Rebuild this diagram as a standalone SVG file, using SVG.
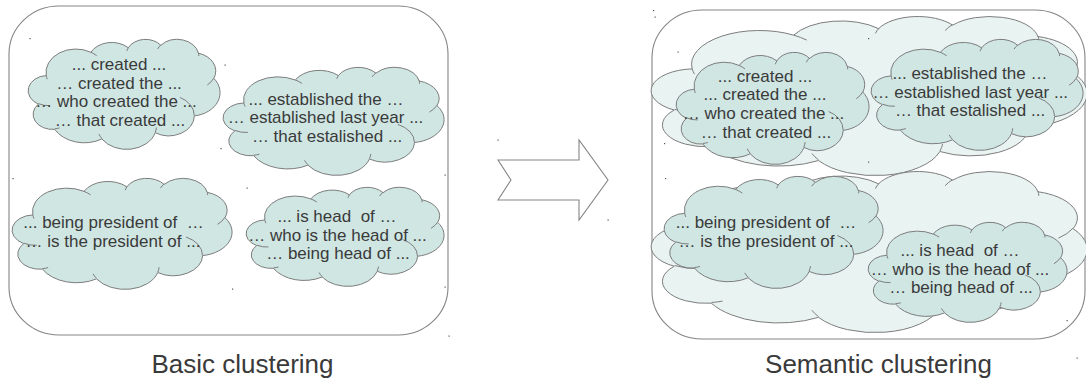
<svg xmlns="http://www.w3.org/2000/svg" xmlns:xlink="http://www.w3.org/1999/xlink" width="1086" height="380" viewBox="0 0 1086 380">
<style>
.panel{fill:#ffffff;stroke:#858585;stroke-width:1.1}
.co,.ci{stroke:#7d7d7d;stroke-width:1;vector-effect:non-scaling-stroke}
.ci{fill:none}
.small{fill:#cfe6e3}
.big{fill:#e9f3f2}
.t{font-family:"Liberation Sans",Arial,sans-serif;font-size:17px;fill:#3a3a3a;text-anchor:middle;white-space:pre}
.cap{font-family:"Liberation Sans",Arial,sans-serif;font-size:26px;fill:#3a3a3a;text-anchor:middle}
.dot{fill:#555555}
</style>
<defs>
<g id="cloud">
<path class="co" d="M39,143.7 A67.53,91.9 0 0 1 140.04,52.01 A53.33,72.67 0 0 1 224.55,34.31 A43.65,59.45 0 0 1 298.32,24.79 A48.57,65.95 0 0 1 383.17,55.74 A53.33,72.73 0 0 1 418.17,154.58 A67.75,92.2 0 0 1 374.03,302.01 A57.85,78.67 0 0 1 285.55,368.12 A67.52,92.15 0 0 1 164.81,392.65 A77.2,105.43 0 0 1 58.05,354.73 A43.6,59.18 0 0 1 21.13,255.52 A43.45,59.45 0 0 1 39,143.7 Z"/>
<path class="ci" d="M46.93,261.77 A43.45,59.45 0 0 1 21.6,253.8 M69.28,348.99 A43.6,59.18 0 0 1 58.19,352.81 M164.78,390.9 A67.52,92.15 0 0 1 158.09,373.48 M288.27,347.51 A67.52,92.15 0 0 1 285.6,366.6 M341.29,229.54 A57.85,78.67 0 0 1 373.81,300.89 M417.98,153.54 A53.33,72.73 0 0 1 403.5,180.31 M383.24,54.26 A48.57,65.95 0 0 1 384,66.65 M290.78,39.52 A48.57,65.95 0 0 1 298.2,23.38 M221.41,47.2 A43.65,59.45 0 0 1 225,33.32 M140,51.92 A67.53,91.9 0 0 1 153.01,65.41 M41.27,157.89 A67.53,91.9 0 0 1 39.01,143.7"/>
</g>
</defs>

<g id="panel-basic">
<rect class="panel" x="9" y="6" width="439" height="329" rx="50" ry="48"/>
</g>
<g id="panel-semantic">
<rect class="panel" x="652" y="10" width="433" height="329" rx="50" ry="48"/>
</g>

<g id="basic-created">
<use xlink:href="#cloud" class="small" transform="translate(29,39) scale(0.4421,0.2546)"/>
<text class="t" x="119" y="70">... created ...</text>
<text class="t" x="119" y="88.5">… created the ...</text>
<text class="t" x="116" y="107">… who created the ...</text>
<text class="t" x="120" y="125.5">… that created ...</text>
</g>
<g id="basic-established">
<use xlink:href="#cloud" class="small" transform="translate(224,67) scale(0.5093,0.25)"/>
<text class="t" x="326" y="104.5">... established the …</text>
<text class="t" x="325.5" y="123.3">… established last year ...</text>
<text class="t" x="327" y="142.3">… that estalished ...</text>
</g>
<g id="basic-president">
<use xlink:href="#cloud" class="small" transform="translate(13,178) scale(0.5069,0.2569)"/>
<text class="t" x="113.5" y="228">... being president of  …</text>
<text class="t" x="113" y="246.5">… is the president of ...</text>
</g>
<g id="basic-head">
<use xlink:href="#cloud" class="small" transform="translate(247,187) scale(0.456,0.2292)"/>
<text class="t" x="337" y="222">... is head  of …</text>
<text class="t" x="337.5" y="240.7">… who is the head of ...</text>
<text class="t" x="338" y="259.3">… being head of ...</text>
</g>

<g id="semantic-cluster-top">
<use xlink:href="#cloud" class="big" transform="translate(653,16) scale(1.0046,0.3681)"/>
</g>
<g id="semantic-cluster-bottom">
<use xlink:href="#cloud" class="big" transform="translate(653,171) scale(1.0046,0.3727)"/>
</g>

<g id="semantic-created">
<use xlink:href="#cloud" class="small" transform="translate(677,52) scale(0.4444,0.2593)"/>
<text class="t" x="765" y="82">... created ...</text>
<text class="t" x="765" y="100.3">... created the ...</text>
<text class="t" x="763.5" y="119">… who created the ...</text>
<text class="t" x="766" y="137.5">… that created ...</text>
</g>
<g id="semantic-established">
<use xlink:href="#cloud" class="small" transform="translate(872,39) scale(0.4884,0.2569)"/>
<text class="t" x="970" y="79">... established the …</text>
<text class="t" x="970.3" y="97.5">… established last year ...</text>
<text class="t" x="970" y="116">… that estalished ...</text>
</g>
<g id="semantic-president">
<use xlink:href="#cloud" class="small" transform="translate(665,176) scale(0.5046,0.2593)"/>
<text class="t" x="766" y="227.7">... being president of  …</text>
<text class="t" x="766" y="246.7">… is the president of ...</text>
</g>
<g id="semantic-head">
<use xlink:href="#cloud" class="small" transform="translate(869,222) scale(0.4583,0.2315)"/>
<text class="t" x="960" y="256">... is head  of …</text>
<text class="t" x="960" y="275">… who is the head of ...</text>
<text class="t" x="961" y="293.3">… being head of ...</text>
</g>

<g id="connectors">
<polygon points="498,160 579,160 579,140 608,180 579,220 579,200 498,200 511,180" fill="#ffffff" stroke="#858585" stroke-width="1.1" stroke-linejoin="miter"/>
</g>

<g id="captions">
<text class="cap" x="242.5" y="373">Basic clustering</text>
<text class="cap" x="878.5" y="373">Semantic clustering</text>
</g>

<g id="specks">
<rect class="dot" x="29.5" y="38" width="1.2" height="1.2"/>
<rect class="dot" x="224.5" y="64.5" width="1.2" height="1.2"/>
<rect class="dot" x="220.5" y="148" width="1.2" height="1.2"/>
<rect class="dot" x="12.5" y="178" width="1.2" height="1.2"/>
<rect class="dot" x="246.5" y="187.5" width="1.2" height="1.2"/>
<rect class="dot" x="232" y="288.5" width="1.2" height="1.2"/>
<rect class="dot" x="444.5" y="174.5" width="1.2" height="1.2"/>
<rect class="dot" x="444.5" y="286.5" width="1.2" height="1.2"/>
<rect class="dot" x="448.5" y="335.5" width="1.2" height="1.2"/>
<rect class="dot" x="497.5" y="139.5" width="1.2" height="1.2"/>
<rect class="dot" x="607.5" y="219.5" width="1.2" height="1.2"/>
<rect class="dot" x="653" y="10" width="1.2" height="1.2"/>
<rect class="dot" x="654.5" y="16.5" width="1.2" height="1.2"/>
<rect class="dot" x="677.5" y="51.5" width="1.2" height="1.2"/>
<rect class="dot" x="868" y="38" width="1.2" height="1.2"/>
<rect class="dot" x="664" y="143" width="1.2" height="1.2"/>
<rect class="dot" x="868" y="161.5" width="1.2" height="1.2"/>
<rect class="dot" x="665" y="178" width="1.2" height="1.2"/>
<rect class="dot" x="1066.5" y="320" width="1.2" height="1.2"/>
<rect class="dot" x="1076.5" y="357.5" width="1.2" height="1.2"/>
</g>
</svg>
